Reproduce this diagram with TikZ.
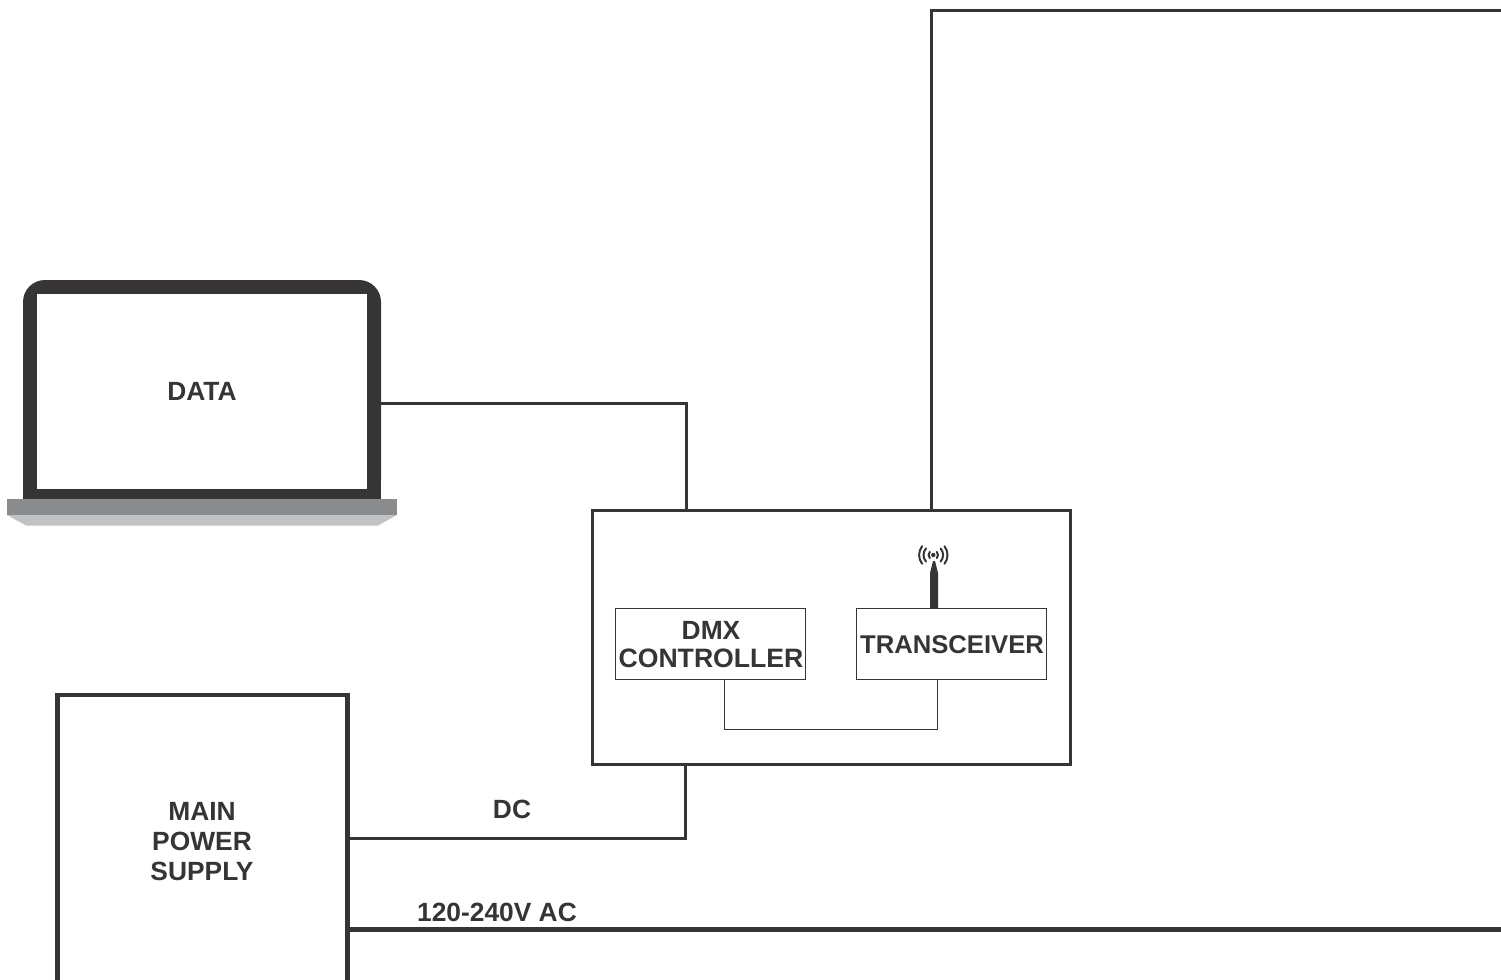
\documentclass[tikz,border=0pt]{standalone}
\usepackage{fontspec}
\setmainfont{Liberation Sans}
\definecolor{ink}{HTML}{363435}
\definecolor{basedark}{HTML}{8A8B8D}
\definecolor{baselight}{HTML}{C1C2C4}
\newcommand{\pxu}{0.02cm}
\tikzset{
  lbl/.style={font=\fontsize{15}{17}\selectfont\bfseries, text=ink, align=center, inner sep=0pt},
  heavybox/.style={draw=ink, line width=4.7*\pxu, inner sep=0pt},
  ctrlbox/.style={draw=ink, line width=3*\pxu, inner sep=0pt},
  modbox/.style={draw=ink, line width=0.9*\pxu, inner sep=0pt},
  wire/.style={draw=ink, line width=3*\pxu},
  thinwire/.style={draw=ink, line width=0.9*\pxu},
  acwire/.style={draw=ink, line width=5*\pxu},
  wave/.style={draw=ink, line width=2*\pxu, line cap=round}
}
\begin{document}
\begin{tikzpicture}[x=\pxu,y=-\pxu]
\useasboundingbox (0,0) rectangle (1501,980);
\clip (0,0) rectangle (1501,980);
\fill[white] (0,0) rectangle (1501,980);
% laptop
\node[fill=ink, rounded corners=22*\pxu, minimum width=358*\pxu, minimum height=222*\pxu, inner sep=0pt] (laptop) at (202,391) {};
\fill[ink] (23,440) rectangle (381,499.5);
\fill[basedark] (7,499) rectangle (397,515);
\fill[baselight] (7,515) -- (397,515) -- (378,525.5) -- (26,525.5) -- cycle;
\node[fill=white, minimum width=330*\pxu, minimum height=195*\pxu, inner sep=0pt, lbl] (screen) at (202,391.5) {DATA};
% controller
\node[ctrlbox, minimum width=478*\pxu, minimum height=254*\pxu] (ctrl) at (831,637) {};
\node[modbox, minimum width=190.5*\pxu, minimum height=71.5*\pxu] (dmx) at (710.25,643.75) {};
\node[lbl] (dmxtext) at (711,644.5) {DMX\\[-0.6pt]\fontsize{15.15}{17}\selectfont CONTROLLER};
\node[modbox, minimum width=190*\pxu, minimum height=71.5*\pxu] (trx) at (951.75,643.75) {};
\node[lbl, font=\fontsize{14.6}{17}\selectfont\bfseries] (trxtext) at (952,645) {TRANSCEIVER};
% power supply
\node[heavybox, minimum width=290*\pxu, minimum height=410*\pxu] (psu) at (202.25,900) {};
\node[lbl] (psutext) at (202,841.4) {MAIN\\POWER\\SUPPLY};
% free ends
\coordinate (topright) at (1520,11);
\coordinate (acright) at (1520,929);
% connectors
\draw[wire] ([yshift=-12*\pxu]laptop.east) -| ([xshift=-145*\pxu]ctrl.north);
\draw[wire] ([xshift=100.5*\pxu]ctrl.north) |- (topright);
\draw[wire] ([yshift=62*\pxu]psu.east) -| ([xshift=-146*\pxu]ctrl.south);
\draw[acwire] ([xshift=-5*\pxu,yshift=-29*\pxu]psu.east) -- (acright);
\draw[thinwire] ([xshift=14.5*\pxu]dmx.south) |- ++(100*\pxu,-49*\pxu) -| ([xshift=-14*\pxu]trx.south);
% labels
\node[lbl] (dclabel) at (512,809) {DC};
\node[lbl] (aclabel) at (497,912) {120-240V AC};
% antenna
\fill[ink] (930,608) -- (930,573) -- (933,561) -- (935,561) -- (938,573) -- (938,608) -- cycle;
\fill[ink] (933.3,555) circle (2.2);
\foreach \r/\a in {4.7/42,9.8/42,14.2/38}{
  \draw[wave] ({933.3+\r*cos(\a)},{555-\r*sin(\a)}) arc[start angle=\a, end angle=-\a, radius=\r*\pxu];
  \draw[wave] ({933.3-\r*cos(\a)},{555-\r*sin(\a)}) arc[start angle=180-\a, end angle=180+\a, radius=\r*\pxu];
}
\end{tikzpicture}
\end{document}
